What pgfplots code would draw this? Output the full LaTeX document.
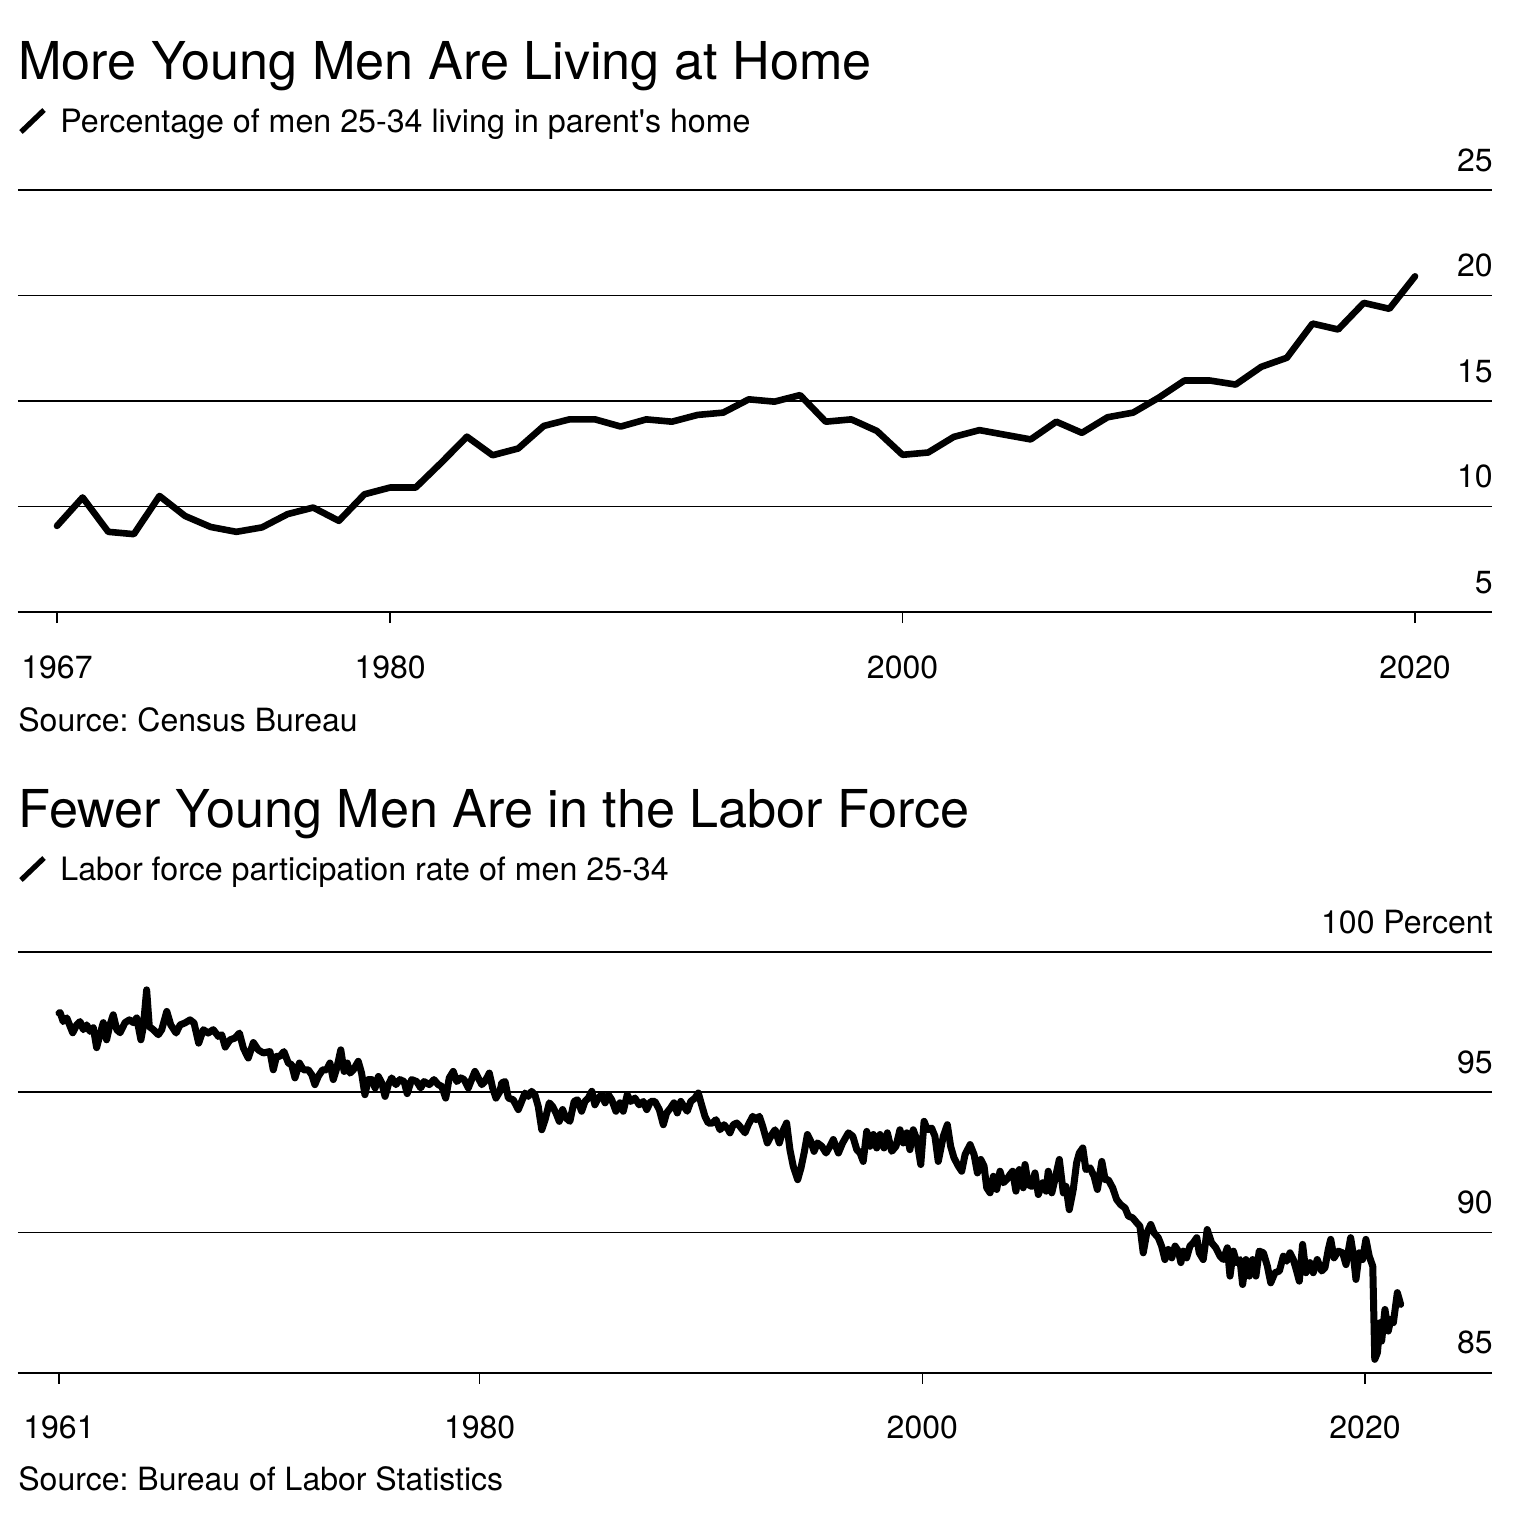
\documentclass[border=0pt]{standalone}
\usepackage{fontspec}
\setmainfont{TeX Gyre Heros}
\usepackage{pgfplots}
\pgfplotsset{compat=1.18}
\usepackage{pgfplotstable}
\frenchspacing

\pgfplotstableread{
year value
1967 9.08
1968 10.43
1969 8.80
1970 8.69
1971 10.50
1972 9.55
1973 9.03
1974 8.80
1975 9.01
1976 9.64
1977 9.95
1978 9.32
1979 10.58
1980 10.90
1981 10.90
1982 12.08
1983 13.31
1984 12.43
1985 12.75
1986 13.82
1987 14.13
1988 14.13
1989 13.79
1990 14.13
1991 14.02
1992 14.34
1993 14.45
1994 15.08
1995 14.97
1996 15.28
1997 14.02
1998 14.13
1999 13.58
2000 12.45
2001 12.56
2002 13.30
2003 13.62
2004 13.40
2005 13.18
2006 14.02
2007 13.49
2008 14.23
2009 14.45
2010 15.16
2011 15.97
2012 15.97
2013 15.78
2014 16.62
2015 17.05
2016 18.67
2017 18.39
2018 19.65
2019 19.37
2020 20.91
}\homedata

\pgfplotstableread{
year value
1961.00 97.82
1961.05 97.84
1961.19 97.52
1961.35 97.65
1961.62 97.12
1961.80 97.40
1961.95 97.52
1962.10 97.23
1962.25 97.40
1962.40 97.17
1962.55 97.30
1962.70 96.59
1962.85 97.05
1963.00 97.48
1963.15 96.87
1963.30 97.40
1963.45 97.76
1963.61 97.23
1963.76 97.12
1963.98 97.48
1964.18 97.58
1964.36 97.48
1964.51 97.65
1964.70 96.87
1964.81 97.34
1964.96 98.65
1965.08 97.34
1965.26 97.23
1965.49 97.05
1965.64 97.23
1965.87 97.88
1966.05 97.40
1966.29 97.11
1966.47 97.40
1966.69 97.47
1966.92 97.58
1967.10 97.47
1967.31 96.75
1967.52 97.23
1967.74 97.11
1967.97 97.23
1968.20 96.99
1968.35 97.05
1968.51 96.61
1968.73 96.87
1968.95 96.93
1969.15 97.11
1969.33 96.57
1969.55 96.22
1969.78 96.77
1970.00 96.51
1970.23 96.40
1970.53 96.45
1970.68 95.80
1970.83 96.28
1970.98 96.28
1971.16 96.45
1971.36 96.04
1971.51 95.98
1971.66 95.51
1971.86 96.04
1972.04 95.80
1972.26 95.80
1972.42 95.62
1972.56 95.27
1972.71 95.56
1972.91 95.80
1973.09 95.80
1973.24 96.04
1973.39 95.45
1973.55 95.86
1973.73 96.51
1973.88 95.74
1974.02 96.04
1974.15 95.68
1974.30 95.80
1974.52 96.10
1974.67 95.68
1974.82 94.91
1974.97 95.45
1975.13 95.45
1975.28 95.15
1975.43 95.56
1975.58 95.33
1975.73 94.85
1975.88 95.27
1976.03 95.51
1976.22 95.27
1976.40 95.45
1976.59 95.38
1976.73 94.95
1976.93 95.45
1977.16 95.38
1977.34 95.15
1977.49 95.38
1977.73 95.27
1977.94 95.45
1978.13 95.27
1978.29 95.21
1978.47 94.79
1978.63 95.51
1978.81 95.74
1978.97 95.38
1979.15 95.51
1979.30 95.45
1979.49 95.15
1979.64 95.45
1979.79 95.74
1979.94 95.51
1980.10 95.27
1980.24 95.38
1980.44 95.68
1980.59 95.15
1980.74 94.79
1980.92 95.03
1981.00 95.33
1981.15 95.38
1981.30 94.79
1981.52 94.73
1981.75 94.38
1981.90 94.67
1982.05 94.97
1982.20 94.85
1982.35 95.03
1982.50 94.91
1982.65 94.49
1982.81 93.66
1982.96 94.02
1983.15 94.62
1983.30 94.49
1983.45 94.26
1983.60 93.96
1983.75 94.38
1983.90 94.08
1984.08 93.96
1984.27 94.67
1984.42 94.73
1984.61 94.32
1984.76 94.67
1984.91 94.79
1985.07 95.03
1985.21 94.55
1985.36 94.79
1985.52 94.91
1985.67 94.62
1985.82 94.91
1985.97 94.73
1986.16 94.32
1986.34 94.62
1986.49 94.32
1986.67 94.91
1986.83 94.67
1987.02 94.79
1987.21 94.55
1987.40 94.67
1987.55 94.38
1987.73 94.67
1987.92 94.67
1988.12 94.38
1988.30 93.84
1988.45 94.26
1988.63 94.44
1988.78 94.62
1988.93 94.26
1989.09 94.67
1989.23 94.49
1989.38 94.32
1989.54 94.67
1989.73 94.79
1989.88 94.97
1990.03 94.55
1990.18 94.14
1990.33 93.90
1990.53 93.90
1990.68 94.02
1990.86 93.66
1991.04 93.84
1991.24 93.66
1991.31 93.55
1991.46 93.84
1991.62 93.90
1991.76 93.78
1991.99 93.55
1992.14 93.84
1992.34 94.14
1992.49 94.02
1992.64 94.14
1992.79 93.78
1993.00 93.19
1993.20 93.49
1993.35 93.66
1993.54 93.19
1993.69 93.60
1993.87 93.90
1994.02 92.95
1994.17 92.36
1994.37 91.88
1994.52 92.30
1994.66 92.83
1994.81 93.49
1994.96 93.25
1995.11 92.89
1995.26 93.19
1995.46 93.07
1995.65 92.83
1995.83 93.07
1995.98 93.31
1996.21 92.83
1996.40 93.19
1996.66 93.55
1996.86 93.43
1997.04 92.95
1997.19 92.83
1997.33 92.53
1997.49 93.60
1997.64 93.07
1997.79 93.49
1997.94 93.01
1998.09 93.49
1998.27 93.01
1998.42 93.55
1998.62 92.89
1998.81 93.07
1998.99 93.66
1999.14 93.19
1999.30 93.55
1999.44 92.95
1999.59 93.66
1999.75 93.31
1999.93 92.42
2000.08 93.96
2000.23 93.66
2000.42 93.72
2000.57 93.43
2000.72 92.53
2000.95 93.43
2001.13 93.84
2001.28 93.07
2001.43 92.66
2001.63 92.36
2001.78 92.18
2001.93 92.77
2002.16 93.13
2002.34 92.77
2002.49 92.12
2002.64 92.60
2002.79 92.36
2002.91 91.59
2003.06 91.41
2003.21 92.00
2003.36 91.53
2003.51 92.18
2003.66 91.77
2003.81 91.88
2003.96 92.06
2004.08 92.18
2004.23 91.47
2004.38 92.24
2004.56 91.59
2004.64 92.42
2004.79 91.70
2004.94 91.64
2005.09 92.12
2005.24 91.35
2005.44 91.77
2005.59 91.47
2005.69 92.18
2005.85 91.41
2005.99 91.88
2006.19 92.60
2006.37 91.41
2006.49 91.64
2006.64 90.81
2006.82 91.53
2006.97 92.48
2007.09 92.83
2007.25 93.01
2007.39 92.24
2007.58 92.30
2007.76 92.00
2007.91 91.53
2008.11 92.53
2008.26 91.88
2008.40 91.88
2008.60 91.59
2008.78 91.17
2008.96 90.99
2009.16 90.87
2009.31 90.58
2009.50 90.52
2009.69 90.34
2009.83 90.22
2009.98 89.27
2010.14 89.98
2010.32 90.28
2010.47 89.98
2010.66 89.81
2010.81 89.51
2010.96 89.03
2011.11 89.39
2011.27 89.09
2011.42 89.51
2011.57 89.33
2011.68 88.92
2011.79 89.33
2011.94 89.09
2012.09 89.51
2012.24 89.63
2012.40 89.81
2012.51 89.27
2012.69 89.03
2012.87 90.10
2013.07 89.63
2013.26 89.45
2013.45 89.15
2013.60 89.03
2013.78 89.45
2013.90 88.44
2014.05 89.33
2014.20 88.92
2014.35 89.03
2014.47 88.14
2014.62 89.03
2014.77 88.44
2014.92 89.03
2015.07 88.44
2015.22 89.33
2015.41 89.27
2015.59 88.79
2015.74 88.20
2015.93 88.56
2016.13 88.62
2016.31 89.15
2016.46 88.97
2016.61 89.27
2016.76 89.03
2016.91 88.62
2017.03 88.26
2017.18 89.57
2017.33 88.56
2017.51 88.92
2017.66 88.56
2017.84 89.03
2018.04 88.62
2018.19 88.74
2018.34 89.39
2018.45 89.75
2018.60 89.09
2018.79 89.33
2018.99 89.27
2019.14 88.85
2019.35 89.81
2019.47 89.21
2019.59 88.32
2019.74 89.27
2019.89 89.03
2020.04 89.75
2020.19 89.15
2020.35 88.79
2020.44 85.47
2020.56 85.71
2020.68 86.78
2020.75 86.12
2020.90 87.25
2021.05 86.48
2021.17 86.90
2021.28 86.78
2021.46 87.85
2021.61 87.43
}\lfprdata

\pgfplotsset{
  bbgstyle/.style={
    scale only axis,
    anchor=south west,
    axis x line*=bottom,
    axis y line*=right,
    y axis line style={draw=none},
    x axis line style={line width=1pt, black},
    xtick align=outside,
    major tick length=5.5pt,
    xtick style={line width=0.8pt, black},
    ytick style={draw=none},
    ymajorgrids,
    grid style={line width=0.85pt, black},
    tick label style={font=\fontsize{16}{19}\selectfont, inner sep=0pt},
    xticklabel style={anchor=base, yshift=-27.5pt},
    yticklabel style={anchor=base east, xshift=0.5pt, yshift=9.5pt},
    /pgf/number format/assume math mode=true,
    clip=false,
  },
}

\begin{document}
\begin{tikzpicture}
\useasboundingbox (0,0) rectangle (768pt,-761pt);

% ---- Top chart ----
\node[anchor=base west, inner sep=0pt, font=\fontsize{26.1}{30}\selectfont] at (9pt,-39.5pt) {More Young Men Are Living at Home};
\draw[line width=2.6pt] (10.5pt,-66pt) -- (22pt,-55pt);
\node[anchor=base west, inner sep=0pt, font=\fontsize{16.1}{19}\selectfont] at (30pt,-66pt) {Percentage of men 25-34 living in parent\textquotesingle s home};

\begin{axis}[bbgstyle,
  at={(9pt,-306pt)},
  width=737pt, height=211pt,
  xmin=1965.478, xmax=2023.005, ymin=5, ymax=25,
  xtick={1967,1980,2000,2020}, xticklabels={1967,1980,2000,2020},
  ytick={5,10,15,20,25}, yticklabels={5,10,15,20,25},
]
\addplot[black, line width=3.3pt, line join=round, line cap=round] table[x=year, y=value] {\homedata};
\end{axis}

\node[anchor=base west, inner sep=0pt, font=\fontsize{16}{19}\selectfont] at (9pt,-365.5pt) {Source: Census Bureau};

% ---- Bottom chart ----
\node[anchor=base west, inner sep=0pt, font=\fontsize{26.1}{30}\selectfont] at (9pt,-413.5pt) {Fewer Young Men Are in the Labor Force};
\draw[line width=2.6pt] (10.5pt,-440pt) -- (22pt,-429pt);
\node[anchor=base west, inner sep=0pt, font=\fontsize{16.1}{19}\selectfont] at (30pt,-440pt) {Labor force participation rate of men 25-34};

\begin{axis}[bbgstyle,
  at={(9pt,-686.25pt)},
  width=737pt, height=210.25pt,
  xmin=1959.148, xmax=2025.737, ymin=85, ymax=100,
  xtick={1961,1980,2000,2020}, xticklabels={1961,1980,2000,2020},
  ytick={85,90,95,100}, yticklabels={85,90,95,100 Percent},
]
\addplot[black, line width=3.5pt, line join=round, line cap=round] table[x=year, y=value] {\lfprdata};
\end{axis}

\node[anchor=base west, inner sep=0pt, font=\fontsize{16}{19}\selectfont] at (9pt,-745pt) {Source: Bureau of Labor Statistics};

\end{tikzpicture}
\end{document}
